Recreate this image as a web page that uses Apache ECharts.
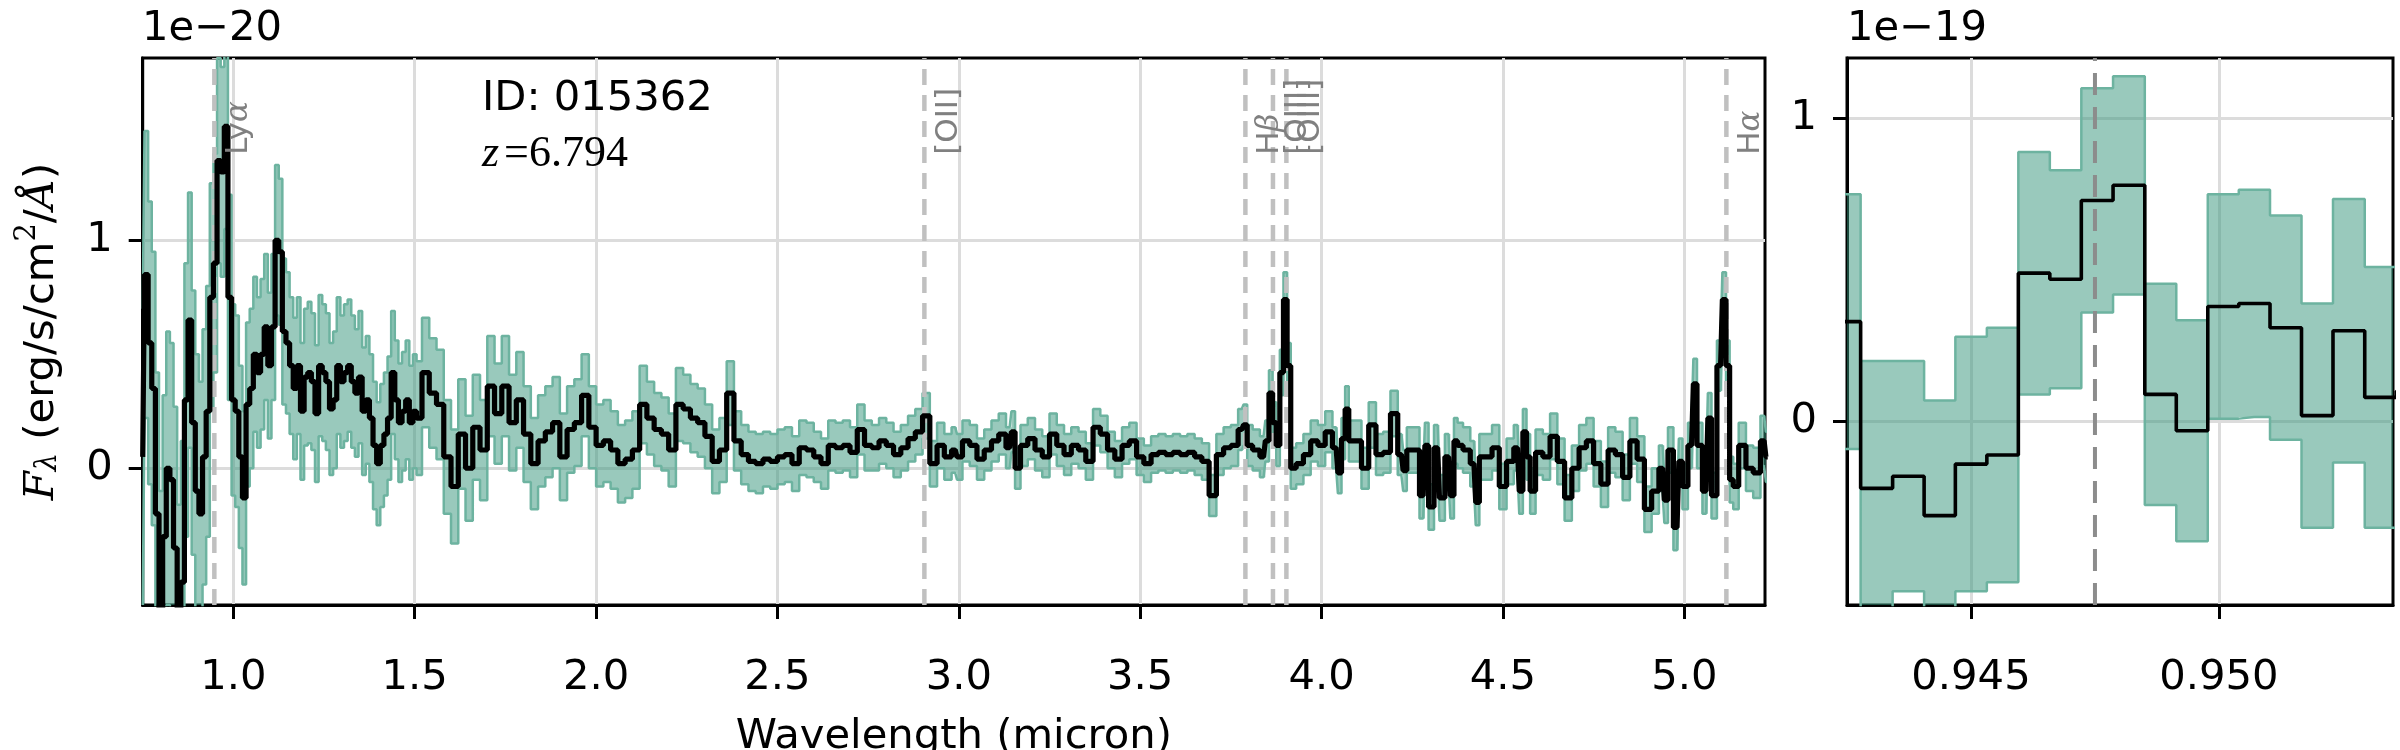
<!DOCTYPE html>
<html>
<head>
<meta charset="utf-8">
<script src="https://cdn.jsdelivr.net/npm/echarts@6/dist/echarts.min.js"></script>
<style>
html, body { margin: 0; padding: 0; background: #fff; }
#chart { width: 2400px; height: 750px; }
</style>
</head>
<body>
<div id="chart"></div>
<script>
// full spectrum: wavelength (micron), flux and 1-sigma error in units of 1e-20
const wave = [
    0.75,0.76,0.77,0.78,0.79,0.80,0.81,0.82,0.83,0.84,
    0.85,0.86,0.87,0.88,0.89,0.90,0.91,0.92,0.93,0.94,
    0.95,0.96,0.97,0.98,0.99,1.00,1.01,1.02,1.03,1.04,
    1.05,1.06,1.07,1.08,1.09,1.10,1.11,1.12,1.13,1.14,
    1.15,1.16,1.17,1.18,1.19,1.20,1.21,1.22,1.23,1.24,
    1.25,1.26,1.27,1.28,1.29,1.30,1.31,1.32,1.33,1.34,
    1.35,1.36,1.37,1.38,1.39,1.40,1.41,1.42,1.43,1.44,
    1.45,1.46,1.47,1.48,1.49,1.50,
    1.51,1.53,1.55,1.57,1.59,1.61,1.63,1.65,1.67,1.69,
    1.71,1.73,1.75,1.77,1.79,1.81,1.83,1.85,1.87,1.89,
    1.91,1.93,1.95,1.97,1.99,2.01,2.03,2.05,2.07,2.09,
    2.11,2.13,2.15,2.17,2.19,2.21,2.23,2.25,2.27,2.29,
    2.31,2.33,2.35,2.37,2.39,2.41,2.43,2.45,2.47,2.49,
    2.51,2.53,2.55,2.57,2.59,2.61,2.63,2.65,2.67,2.69,
    2.71,2.73,2.75,2.77,2.79,2.81,2.83,2.85,2.87,2.89,
    2.91,2.93,2.95,2.97,2.99,
    3.00,3.02,3.04,3.06,3.08,3.10,3.12,3.14,3.15,3.16,
    3.18,3.20,3.22,3.24,3.26,3.28,3.30,3.32,3.34,3.36,
    3.38,3.40,3.42,3.44,3.46,3.48,3.50,3.52,3.54,3.56,
    3.58,3.60,3.62,3.64,3.66,3.68,3.70,3.72,3.74,
    3.76,3.78,3.79,3.80,3.82,3.84,3.85,3.86,3.87,3.88,
    3.89,3.90,3.91,3.92,3.94,3.96,3.98,4.00,4.02,4.04,
    4.05,4.06,4.07,4.08,4.10,4.12,4.14,4.16,4.18,4.20,
    4.22,4.23,4.24,4.26,4.28,4.29,4.30,4.32,4.33,4.35,
    4.36,4.37,4.38,4.40,4.42,4.43,4.44,4.46,4.48,
    4.50,4.52,4.54,4.55,4.56,4.57,4.58,4.60,4.62,4.64,
    4.66,4.68,4.70,4.72,4.74,4.76,4.78,4.80,4.82,4.84,
    4.86,4.88,4.90,4.92,4.94,4.95,4.96,4.98,4.99,5.00,
    5.02,5.03,5.04,5.06,5.07,5.08,5.10,5.11,5.12,5.13,
    5.14,5.16,5.18,5.20,5.22,5.23
];
const flux = [
    0.05,0.85,0.55,0.35,-0.2,-0.75,-0.3,0.0,-0.05,-0.35,
    -0.8,-0.5,0.3,0.65,0.2,-0.1,-0.2,0.05,0.25,0.75,
    0.9,1.35,1.3,1.5,0.75,0.3,0.25,0.05,-0.13,0.28,
    0.35,0.5,0.42,0.5,0.62,0.45,0.62,1.0,0.95,0.6,
    0.55,0.45,0.35,0.45,0.25,0.4,0.42,0.38,0.24,0.45,
    0.42,0.38,0.26,0.3,0.45,0.38,0.42,0.45,0.38,0.33,
    0.4,0.25,0.3,0.22,0.1,0.02,0.1,0.15,0.22,0.42,
    0.3,0.2,0.25,0.3,0.2,0.25,
    0.22,0.42,0.33,0.28,0.05,-0.08,0.15,0.0,0.18,0.08,
    0.36,0.24,0.36,0.2,0.3,0.15,0.02,0.12,0.16,0.2,
    0.05,0.17,0.2,0.32,0.18,0.1,0.12,0.08,0.02,0.04,
    0.08,0.28,0.22,0.17,0.15,0.08,0.28,0.26,0.22,0.2,
    0.14,0.03,0.08,0.33,0.12,0.06,0.03,0.02,0.04,0.03,
    0.05,0.06,0.02,0.09,0.08,0.05,0.02,0.1,0.09,0.1,
    0.07,0.17,0.1,0.09,0.12,0.1,0.06,0.09,0.13,0.16,
    0.23,0.02,0.1,0.05,0.08,
    0.05,0.12,0.1,0.04,0.08,0.12,0.15,0.09,0.16,0.0,
    0.1,0.13,0.08,0.05,0.15,0.1,0.06,0.1,0.08,0.03,
    0.18,0.15,0.08,0.04,0.1,0.12,0.05,0.02,0.06,0.07,
    0.06,0.07,0.06,0.07,0.05,0.03,-0.12,0.06,0.09,
    0.1,0.17,0.19,0.1,0.08,0.05,0.12,0.33,0.2,0.1,
    0.42,0.74,0.45,0.0,0.02,0.06,0.12,0.1,0.16,0.09,
    -0.02,0.13,0.26,0.12,0.12,0.0,0.19,0.06,0.07,0.24,
    0.06,-0.01,0.08,0.08,-0.12,0.1,-0.17,0.09,-0.13,0.05,
    -0.12,0.12,0.1,0.08,0.02,-0.15,0.05,0.05,0.09,
    -0.08,0.03,0.09,-0.1,0.16,0.05,-0.1,0.07,0.05,0.14,
    0.03,-0.13,0.0,0.09,0.12,0.02,-0.07,0.08,0.06,-0.04,
    0.12,0.04,-0.18,-0.1,0.0,-0.14,0.08,-0.26,0.03,-0.08,
    0.1,0.37,0.1,-0.1,0.22,-0.12,0.45,0.74,0.45,-0.05,
    -0.08,0.1,0.0,-0.02,0.12,0.05
];
const fluxErr = [
    0.65,0.63,0.62,0.6,0.62,0.65,0.62,0.6,0.6,0.62,
    0.64,0.62,0.6,0.56,0.58,0.6,0.58,0.56,0.55,0.5,
    0.48,0.45,0.46,0.45,0.45,0.42,0.42,0.4,0.38,0.36,
    0.35,0.34,0.33,0.33,0.32,0.32,0.32,0.33,0.32,0.32,
    0.31,0.3,0.31,0.3,0.3,0.3,0.31,0.3,0.3,0.31,
    0.3,0.3,0.29,0.3,0.3,0.29,0.3,0.29,0.29,0.28,
    0.29,0.28,0.28,0.28,0.28,0.27,0.27,0.27,0.27,0.27,
    0.26,0.26,0.26,0.26,0.25,0.25,
    0.25,0.24,0.24,0.24,0.25,0.25,0.24,0.23,0.23,0.22,
    0.22,0.22,0.22,0.21,0.21,0.21,0.2,0.2,0.2,0.2,
    0.19,0.19,0.19,0.18,0.18,0.18,0.18,0.17,0.17,0.17,
    0.17,0.17,0.16,0.16,0.16,0.16,0.16,0.15,0.15,0.15,
    0.14,0.14,0.14,0.14,0.13,0.13,0.13,0.13,0.12,0.12,
    0.12,0.12,0.12,0.12,0.12,0.11,0.11,0.11,0.11,0.11,
    0.11,0.11,0.11,0.1,0.1,0.1,0.1,0.1,0.1,0.1,
    0.1,0.1,0.1,0.1,0.1,
    0.1,0.09,0.09,0.09,0.09,0.09,0.09,0.09,0.09,0.09,
    0.09,0.09,0.09,0.09,0.09,0.09,0.09,0.08,0.08,0.08,
    0.08,0.08,0.08,0.08,0.08,0.08,0.08,0.08,0.08,0.08,
    0.08,0.08,0.08,0.08,0.08,0.08,0.09,0.09,0.09,
    0.09,0.09,0.09,0.09,0.09,0.09,0.09,0.1,0.09,0.09,
    0.1,0.12,0.1,0.09,0.09,0.09,0.09,0.09,0.09,0.09,
    0.09,0.09,0.1,0.09,0.09,0.09,0.1,0.09,0.09,0.1,
    0.09,0.09,0.1,0.1,0.1,0.1,0.1,0.1,0.1,0.1,
    0.1,0.1,0.1,0.1,0.1,0.1,0.1,0.1,0.1,
    0.1,0.1,0.1,0.1,0.1,0.1,0.1,0.1,0.1,0.1,
    0.1,0.1,0.1,0.1,0.1,0.1,0.1,0.1,0.1,0.1,
    0.1,0.1,0.1,0.1,0.1,0.1,0.1,0.1,0.1,0.1,
    0.1,0.11,0.1,0.1,0.11,0.1,0.11,0.12,0.11,0.1,
    0.1,0.1,0.1,0.11,0.11,0.11
];

// zoom on Lya: wavelength (micron), flux and error in units of 1e-19
const zoomWave = [0.94181, 0.94245, 0.94310, 0.94374, 0.94437, 0.94500, 0.94564, 0.94627, 0.94691, 0.94754,
                  0.94819, 0.94882, 0.94946, 0.95009, 0.95071, 0.95135, 0.95198, 0.95262, 0.95326, 0.95389];
const zoomFlux = [0.30, 0.33, -0.22, -0.18, -0.31, -0.14, -0.11, 0.49, 0.47, 0.73,
                  0.78, 0.09, -0.03, 0.38, 0.39, 0.31, 0.02, 0.30, 0.08, 0.10];
const zoomErr  = [0.40, 0.42, 0.42, 0.38, 0.38, 0.42, 0.42, 0.40, 0.36, 0.37,
                  0.36, 0.365, 0.365, 0.37, 0.375, 0.37, 0.37, 0.435, 0.43, 0.40];

// emission lines at z = 6.794
const lineWaves = [0.9475, 2.905, 3.790, 3.866, 3.903, 5.116];
const lineNames = ['Ly{g|α}', '[OII]', 'H{g|β}', '[OIII]', '[OIII]', 'H{g|α}'];

// axes
const mainXRange = [0.75, 5.2225];
const mainYRange = [-0.6, 1.8];
const zoomXRange = [0.9425, 0.95351];
const zoomYRange = [-0.605, 1.2];
const mainXTicks = [1.0, 1.5, 2.0, 2.5, 3.0, 3.5, 4.0, 4.5, 5.0];
const mainYTicks = [0, 1];
const zoomXTicks = [0.945, 0.950];
const zoomYTicks = [0, 1];

const FONT = 'DejaVu Sans';
const FS = 41.7;
const EDGE = '#6db3a0';
const FILL = 'rgba(51,147,121,0.5)';

const chart = echarts.init(document.getElementById('chart'));

function makeAxis(gridIndex, range, ticks, fmt, labelMargin) {
    return {
        type: 'value',
        gridIndex: gridIndex,
        min: range[0],
        max: range[1],
        axisLine: { show: true, onZero: false, lineStyle: { color: '#000', width: 3 } },
        axisTick: { show: true, length: 14, lineStyle: { color: '#000', width: 3 }, customValues: ticks },
        axisLabel: { customValues: ticks, formatter: fmt, fontSize: FS, fontFamily: FONT, color: '#000', margin: labelMargin },
        splitLine: { show: true, lineStyle: { color: '#dcdcdc', width: 3 } }
    };
}

// step edges of bin i (matplotlib where='mid')
function binEdges(xs, i) {
    const n = xs.length;
    const xl = i === 0 ? xs[0] : (xs[i - 1] + xs[i]) / 2;
    const xr = i === n - 1 ? xs[n - 1] : (xs[i] + xs[i + 1]) / 2;
    return [xl, xr];
}

// error band (filled polygon + both edges) and the flux line
function spectrumSeries(axisIndex, xs, ys, errs, lineWidth) {
    const lo = ys.map((y, i) => y - errs[i]);
    const hi = ys.map((y, i) => y + errs[i]);
    const common = {
        type: 'line', xAxisIndex: axisIndex, yAxisIndex: axisIndex,
        step: 'middle', showSymbol: false, symbol: 'none', silent: true, animation: false
    };
    return [
        {
            type: 'custom', xAxisIndex: axisIndex, yAxisIndex: axisIndex,
            silent: true, animation: false, clip: true, z: 2,
            data: [[xs[0], ys[0]]],
            renderItem: function (params, api) {
                const pts = [];
                for (let i = 0; i < xs.length; i++) {
                    const e = binEdges(xs, i);
                    pts.push(api.coord([e[0], hi[i]]), api.coord([e[1], hi[i]]));
                }
                for (let i = xs.length - 1; i >= 0; i--) {
                    const e = binEdges(xs, i);
                    pts.push(api.coord([e[1], lo[i]]), api.coord([e[0], lo[i]]));
                }
                return { type: 'polygon', shape: { points: pts }, style: { fill: FILL, stroke: null } };
            }
        },
        Object.assign({}, common, {
            z: 3, lineStyle: { color: EDGE, width: 2.5 },
            data: xs.map((x, i) => [x, lo[i]])
        }),
        Object.assign({}, common, {
            z: 3, lineStyle: { color: EDGE, width: 2.5 },
            data: xs.map((x, i) => [x, hi[i]])
        }),
        Object.assign({}, common, {
            z: 6, lineStyle: { color: '#000', width: lineWidth },
            data: xs.map((x, i) => [x, ys[i]])
        })
    ];
}

function lineMarker(axisIndex, w, yRange, color, width, dash) {
    return {
        type: 'line', xAxisIndex: axisIndex, yAxisIndex: axisIndex,
        showSymbol: false, symbol: 'none', silent: true, animation: false, z: 4,
        lineStyle: { color: color, width: width, type: dash },
        data: [[w, yRange[0]], [w, yRange[1]]]
    };
}

let series = [];
series = series.concat(spectrumSeries(0, wave, flux, fluxErr, 5.2));
lineWaves.forEach(w => series.push(lineMarker(0, w, mainYRange, '#c0c0c0', 4.5, [16, 10])));
series = series.concat(spectrumSeries(1, zoomWave, zoomFlux, zoomErr, 3.6));
series.push(lineMarker(1, lineWaves[0], zoomYRange, '#8c8c8c', 4, [22, 12]));

const gridBase = { top: 58, height: 547, show: true, borderColor: '#000', borderWidth: 3,
                   containLabel: false, outerBoundsMode: 'none' };

// axis title placed as the single label of a bare bottom axis, so it uses the same layout as the tick labels
const titleAxis = {
    type: 'value', gridIndex: 0, position: 'bottom', min: mainXRange[0], max: mainXRange[1],
    axisLine: { show: false }, axisTick: { show: false }, splitLine: { show: false },
    axisLabel: {
        customValues: [(mainXRange[0] + mainXRange[1]) / 2], formatter: () => 'Wavelength (micron)',
        fontSize: FS, fontFamily: FONT, color: '#000', margin: 111
    }
};

const option = {
    animation: false,
    backgroundColor: '#fff',
    grid: [
        Object.assign({ left: 142.7, width: 1622.3 }, gridBase),
        Object.assign({ left: 1847, width: 546 }, gridBase)
    ],
    xAxis: [
        makeAxis(0, mainXRange, mainXTicks, v => v.toFixed(1), 52),
        makeAxis(1, zoomXRange, zoomXTicks, v => v.toFixed(3), 52),
        titleAxis
    ],
    yAxis: [
        Object.assign(makeAxis(0, mainYRange, mainYTicks, v => String(v), 30), {
            name: '{f|F}{sub|λ}{t| (erg/s/cm}{sup|2}{t|/}{a|Å}{t|)}',
            nameLocation: 'middle', nameRotate: 90, nameGap: 80,
            nameTextStyle: {
                color: '#000',
                rich: {
                    f: { fontFamily: 'DejaVu Serif', fontStyle: 'italic', fontSize: FS, lineHeight: 50, verticalAlign: 'bottom' },
                    sub: { fontFamily: 'DejaVu Serif', fontStyle: 'italic', fontSize: 29, verticalAlign: 'bottom', lineHeight: 36 },
                    t: { fontFamily: FONT, fontSize: FS, lineHeight: 50, verticalAlign: 'bottom' },
                    sup: { fontFamily: 'DejaVu Serif', fontSize: 29, verticalAlign: 'top', lineHeight: 36 },
                    a: { fontFamily: 'DejaVu Serif', fontStyle: 'italic', fontSize: FS, lineHeight: 50, verticalAlign: 'bottom' }
                }
            }
        }),
        makeAxis(1, zoomYRange, zoomYTicks, v => String(v), 30)
    ],
    series: series
};

chart.setOption(option);

// texts: offsets, ID, redshift and line labels
const LABEL_Y = 1.375;
const graphics = [
    { type: 'text', left: 142, top: 8, z: 100, style: { text: '1e\u221220', fontSize: FS, fontFamily: FONT, fill: '#000' } },
    { type: 'text', left: 1847, top: 8, z: 100, style: { text: '1e\u221219', fontSize: FS, fontFamily: FONT, fill: '#000' } },
    { type: 'text', left: 482, top: 78, z: 100, style: { text: 'ID: 015362', fontSize: FS, fontFamily: FONT, fill: '#000' } },
    {
        type: 'text', left: 482, top: 132, z: 100,
        style: {
            text: '{i|z}{n|=6.794}', fill: '#000',
            rich: {
                i: { fontFamily: 'Liberation Serif', fontStyle: 'italic', fontSize: 44, fill: '#000', padding: [0, 5, 0, 0] },
                n: { fontFamily: 'Liberation Serif', fontSize: 44, fill: '#000' }
            }
        }
    }
];
lineWaves.forEach((w, i) => {
    const p = chart.convertToPixel({ gridIndex: 0 }, [w, LABEL_Y]);
    graphics.push({
        type: 'text', x: p[0] + 25, y: p[1], rotation: Math.PI / 2, z: 100,
        style: {
            text: lineNames[i], fontSize: 31, fontFamily: FONT, fill: '#808080',
            align: 'left', verticalAlign: 'middle',
            rich: { g: { fontFamily: 'DejaVu Serif', fontStyle: 'italic', fontSize: 31, fill: '#808080' } }
        }
    });
});
chart.setOption({ graphic: graphics });
</script>
</body>
</html>
